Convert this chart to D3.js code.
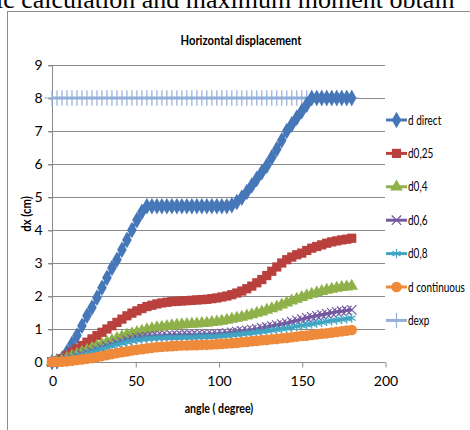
<!DOCTYPE html>
<html>
<head>
<meta charset="utf-8">
<script src="https://cdn.jsdelivr.net/npm/d3@7"></script>
<style>
  body { margin: 0; background: #fff; }
  svg text { font-family: Lato, "Open Sans", sans-serif; }
</style>
</head>
<body>
<div class="chart"></div>
<script>
const width = 470,
  height = 430,
  plotLeft = 52,
  plotRight = 385,
  plotTop = 65,
  plotBottom = 362;

// angle (degree) categories
const angles = [0, 3, 6, 9, 12, 15, 18, 21, 24, 27, 30, 33, 36, 39, 42, 45, 48, 51, 54, 57,
  60, 63, 66, 69, 72, 75, 78, 81, 84, 87, 90, 93, 96, 99, 102, 105, 108, 111, 114, 117,
  120, 123, 126, 129, 132, 135, 138, 141, 144, 147, 150, 153, 156, 159, 162, 165, 168, 171, 174, 177, 180];

const dDirect = [0, 0.02, 0.1, 0.3, 0.55, 0.8, 1.1, 1.4, 1.65, 1.95, 2.25, 2.55, 2.85, 3.1, 3.4, 3.7, 4.0, 4.3, 4.55, 4.72,
  4.72, 4.72, 4.72, 4.72, 4.72, 4.72, 4.72, 4.72, 4.72, 4.72, 4.72, 4.72, 4.72, 4.72, 4.72, 4.72, 4.75, 4.85, 4.98, 5.15,
  5.35, 5.55, 5.75, 5.95, 6.2, 6.45, 6.72, 7.0, 7.2, 7.4, 7.6, 7.8, 8.0, 8.0, 8.0, 8.0, 8.0, 8.0, 8.0, 8.0, 8.0];

const d025 = [0, 0.03, 0.1, 0.2, 0.3, 0.4, 0.5, 0.6, 0.7, 0.8, 0.9, 1.0, 1.1, 1.2, 1.3, 1.4, 1.48, 1.55, 1.62, 1.68,
  1.72, 1.76, 1.79, 1.81, 1.83, 1.84, 1.85, 1.86, 1.87, 1.88, 1.89, 1.9, 1.92, 1.94, 1.97, 2.0, 2.04, 2.09, 2.15, 2.22,
  2.3, 2.4, 2.5, 2.62, 2.75, 2.88, 3.0, 3.1, 3.18, 3.25, 3.3, 3.38, 3.45, 3.5, 3.55, 3.6, 3.64, 3.67, 3.7, 3.72, 3.75];

const d04 = [0, 0.02, 0.06, 0.12, 0.18, 0.24, 0.3, 0.36, 0.42, 0.48, 0.54, 0.6, 0.66, 0.72, 0.77, 0.82, 0.86, 0.9, 0.94, 0.98,
  1.01, 1.04, 1.06, 1.08, 1.1, 1.12, 1.13, 1.14, 1.15, 1.16, 1.17, 1.18, 1.2, 1.22, 1.24, 1.27, 1.3, 1.33, 1.36, 1.4,
  1.44, 1.48, 1.52, 1.57, 1.62, 1.67, 1.73, 1.79, 1.85, 1.91, 1.96, 2.01, 2.06, 2.1, 2.14, 2.18, 2.21, 2.24, 2.26, 2.28, 2.3];

const d06 = [0, 0.01, 0.04, 0.08, 0.12, 0.17, 0.22, 0.27, 0.32, 0.37, 0.42, 0.47, 0.52, 0.57, 0.62, 0.66, 0.7, 0.73, 0.75, 0.77,
  0.78, 0.79, 0.8, 0.8, 0.81, 0.81, 0.81, 0.82, 0.82, 0.82, 0.83, 0.83, 0.84, 0.85, 0.86, 0.88, 0.9, 0.92, 0.94, 0.96,
  0.98, 1.0, 1.03, 1.06, 1.09, 1.12, 1.15, 1.18, 1.22, 1.26, 1.3, 1.34, 1.37, 1.4, 1.43, 1.46, 1.49, 1.52, 1.54, 1.56, 1.58];

const d08 = [0, 0.01, 0.04, 0.08, 0.12, 0.16, 0.21, 0.26, 0.3, 0.35, 0.4, 0.44, 0.49, 0.53, 0.57, 0.61, 0.64, 0.67, 0.69, 0.71,
  0.72, 0.73, 0.73, 0.74, 0.74, 0.74, 0.75, 0.75, 0.75, 0.76, 0.76, 0.77, 0.77, 0.78, 0.79, 0.8, 0.82, 0.83, 0.85, 0.87,
  0.88, 0.9, 0.92, 0.94, 0.96, 0.98, 1.0, 1.02, 1.05, 1.08, 1.1, 1.13, 1.15, 1.18, 1.2, 1.23, 1.25, 1.27, 1.29, 1.31, 1.33];

const dContinuous = [0, 0, 0.01, 0.02, 0.04, 0.06, 0.08, 0.1, 0.12, 0.15, 0.18, 0.21, 0.24, 0.27, 0.3, 0.32, 0.35, 0.37, 0.39, 0.41,
  0.43, 0.45, 0.46, 0.47, 0.48, 0.49, 0.5, 0.5, 0.51, 0.51, 0.52, 0.52, 0.53, 0.54, 0.55, 0.56, 0.57, 0.58, 0.6, 0.61,
  0.63, 0.64, 0.66, 0.67, 0.69, 0.7, 0.72, 0.73, 0.75, 0.77, 0.79, 0.8, 0.82, 0.84, 0.86, 0.87, 0.89, 0.91, 0.93, 0.95, 0.97];

const dExp = [8, 8, 8, 8, 8, 8, 8, 8, 8, 8, 8, 8, 8, 8, 8, 8, 8, 8, 8, 8,
  8, 8, 8, 8, 8, 8, 8, 8, 8, 8, 8, 8, 8, 8, 8, 8, 8, 8, 8, 8,
  8, 8, 8, 8, 8, 8, 8, 8, 8, 8, 8, 8, 8, 8, 8, 8, 8, 8, 8, 8, 8];

const seriesNames = ['d direct', 'd0,25', 'd0,4', 'd0,6', 'd0,8', 'd continuous', 'dexp'];
const seriesColors = ['#4677b8', '#b9403d', '#8fb14a', '#7458a0', '#3fa5c2', '#ef8a3b', '#94afd9'];
const yTicks = [0, 1, 2, 3, 4, 5, 6, 7, 8, 9];
const xTicks = [0, 50, 100, 150, 200];

const seriesValues = [dDirect, d025, d04, d06, d08, dContinuous, dExp];
const markers = [
  { type: d3.symbolDiamond, size: 80, stroke: false },
  { type: d3.symbolSquare, size: 85, stroke: false },
  { type: d3.symbolTriangle, size: 70, stroke: false },
  { type: d3.symbolX, size: 60, stroke: true },
  { type: d3.symbolAsterisk, size: 60, stroke: true },
  { type: d3.symbolCircle, size: 90, stroke: false },
  { type: d3.symbolPlus, size: 80, stroke: true }
];

// squeeze a text horizontally, the chart's font is a narrow one
function condense(sel, factor) {
  sel.each(function () {
    const w = this.getComputedTextLength();
    d3.select(this)
      .attr('textLength', w * factor)
      .attr('lengthAdjust', 'spacingAndGlyphs');
  });
}

const svg = d3.select('.chart')
  .append('svg')
  .attr('width', width)
  .attr('height', height);

svg.append('rect')
  .attr('width', width)
  .attr('height', height)
  .attr('fill', '#fff');

// caption line of the page above the chart, cut off at the top as in the scan
svg.append('text')
  .attr('x', -4)
  .attr('y', 8)
  .style('font-family', '"Liberation Serif", serif')
  .style('font-size', '26px')
  .attr('fill', '#000')
  .text('ic calculation and maximum moment obtain');

// chart frame
svg.append('rect')
  .attr('x', 7.5)
  .attr('y', 11.5)
  .attr('width', 480)
  .attr('height', 440)
  .attr('fill', 'none')
  .attr('stroke', '#8c8c8c')
  .attr('stroke-width', 1);

const xScale = d3.scaleLinear()
  .domain([0, 200])
  .range([plotLeft, plotRight]);

const yScale = d3.scaleLinear()
  .domain([0, 9])
  .range([plotBottom, plotTop]);

// gridlines
svg.append('g')
  .selectAll('line')
  .data(yTicks.slice(1))
  .join('line')
  .attr('x1', plotLeft - 4)
  .attr('x2', plotRight)
  .attr('y1', d => Math.round(yScale(d)) + 0.5)
  .attr('y2', d => Math.round(yScale(d)) + 0.5)
  .attr('stroke', '#8a8a8a')
  .attr('stroke-width', 1);

const yAxis = d3.axisLeft(yScale)
  .tickValues(yTicks)
  .tickSize(4)
  .tickPadding(6);

svg.append('g')
  .attr('transform', `translate(${plotLeft + 0.5}, 0.5)`)
  .call(yAxis)
  .call(g => g.selectAll('path, line').attr('stroke', '#8a8a8a'))
  .call(g => g.select('.domain').attr('d', `M0,${plotTop}V${plotBottom}`))
  .selectAll('text')
  .style('font-size', '14px')
  .attr('fill', '#000');

const xAxis = d3.axisBottom(xScale)
  .tickValues(xTicks)
  .tickSize(5)
  .tickPadding(9);

svg.append('g')
  .attr('transform', `translate(0.5, ${plotBottom + 0.5})`)
  .call(xAxis)
  .call(g => g.selectAll('path, line').attr('stroke', '#8a8a8a'))
  .call(g => g.select('.domain').attr('d', `M${plotLeft},0H${plotRight}`))
  .selectAll('text')
  .style('font-size', '14px')
  .attr('fill', '#000');

// titles
svg.append('text')
  .attr('x', 241)
  .attr('y', 45)
  .attr('text-anchor', 'middle')
  .style('font-size', '14px')
  .style('font-weight', 'bold')
  .text('Horizontal displacement')
  .call(condense, 0.8);

svg.append('text')
  .attr('x', 219)
  .attr('y', 413)
  .attr('text-anchor', 'middle')
  .style('font-size', '12.5px')
  .style('font-weight', 'bold')
  .text('angle ( degree)')
  .call(condense, 0.85);

svg.append('text')
  .attr('transform', 'translate(31, 214) rotate(-90)')
  .attr('text-anchor', 'middle')
  .style('font-size', '12.5px')
  .style('font-weight', 'bold')
  .text('dx (cm)')
  .call(condense, 0.9);

// series; dexp goes first so it lies beneath the others
const drawOrder = [6, 0, 1, 2, 3, 4, 5];
const plot = svg.append('g');

drawOrder.forEach(i => {
  const values = seriesValues[i];
  const points = angles.map((a, k) => ({ x: a, y: values[k] }));
  const color = seriesColors[i];
  const line = d3.line()
    .x(d => xScale(d.x))
    .y(d => yScale(d.y));

  plot.append('path')
    .attr('d', line(points))
    .attr('fill', 'none')
    .attr('stroke', color)
    .attr('stroke-width', 3);

  const m = markers[i];
  const symbol = d3.symbol().type(m.type).size(m.size);
  plot.append('g')
    .selectAll('path')
    .data(points)
    .join('path')
    .attr('transform', d => `translate(${xScale(d.x)}, ${yScale(d.y)})`)
    .attr('d', symbol)
    .attr('fill', m.stroke ? 'none' : color)
    .attr('stroke', m.stroke ? color : 'none')
    .attr('stroke-width', m.stroke ? 1.2 : 0);
});

// legend
const legend = svg.append('g')
  .selectAll('g')
  .data(seriesNames)
  .join('g')
  .attr('transform', (d, i) => `translate(386, ${120 + i * 33.4})`);

legend.append('line')
  .attr('x1', 0)
  .attr('x2', 21)
  .attr('stroke', (d, i) => seriesColors[i])
  .attr('stroke-width', 3);

legend.append('path')
  .attr('transform', 'translate(10.5, 0)')
  .attr('d', (d, i) => d3.symbol().type(markers[i].type).size(markers[i].size)())
  .attr('fill', (d, i) => markers[i].stroke ? 'none' : seriesColors[i])
  .attr('stroke', (d, i) => markers[i].stroke ? seriesColors[i] : 'none')
  .attr('stroke-width', 1.2);

legend.append('text')
  .attr('x', 22)
  .attr('y', 4.5)
  .style('font-size', '12.5px')
  .text(d => d)
  .call(condense, 0.8);
</script>
</body>
</html>
